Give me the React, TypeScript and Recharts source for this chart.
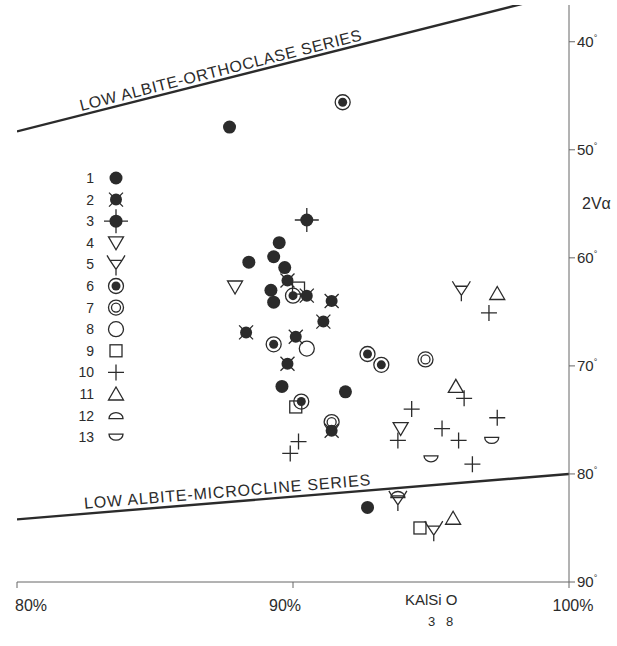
import React from "react";
import { ScatterChart, Scatter, XAxis, YAxis, ReferenceLine, Legend, Label } from "recharts";

const INK = "#2b2b2b";
const AXIS = "#666";
const FONT = "'Liberation Sans', Arial, sans-serif";

// axes
const X_TICKS = [80, 90, 100];
const Y_TICKS = [40, 50, 60, 70, 80, 90];
const Y_TOP = 36.6;

// series boundary lines (x %, 2V deg)
const orthoclaseLine = [[80, 48.3], [100, 35.4]];
const microclineLine = [[80, 84.2], [100, 80.0]];

// sample points per symbol type: [KAlSi3O8 %, 2V alpha]
const type1 = [[87.7, 47.9], [89.5, 58.6], [89.3, 59.9], [88.4, 60.4], [89.7, 60.9], [89.2, 63.0], [89.3, 64.1], [89.6, 71.9], [91.9, 72.4], [92.7, 83.1]];
const type2 = [[89.8, 62.1], [90.5, 63.5], [91.4, 64.0], [91.1, 65.9], [88.3, 66.9], [90.1, 67.3], [89.8, 69.8], [91.4, 76.0]];
const type3 = [[90.5, 56.5]];
const type4 = [[87.9, 62.7], [93.9, 75.8]];
const type5 = [[96.1, 63.0], [93.8, 82.4], [95.1, 85.2]];
const type6 = [[91.8, 45.6], [90.0, 63.5], [89.3, 68.0], [92.7, 68.9], [93.2, 69.9], [90.3, 73.3]];
const type7 = [[94.8, 69.4], [91.4, 75.2]];
const type8 = [[90.5, 68.4]];
const type9 = [[90.2, 62.8], [90.1, 73.8], [94.6, 85.0]];
const type10 = [[97.1, 65.1], [96.2, 73.0], [94.3, 74.0], [97.4, 74.8], [95.4, 75.8], [93.8, 76.9], [96.0, 76.9], [90.2, 77.0], [89.9, 78.1], [96.5, 79.1]];
const type11 = [[97.4, 63.3], [95.9, 71.9], [95.8, 84.1]];
const type12 = [[93.8, 81.9]];
const type13 = [[97.2, 76.9], [95.0, 78.6]];

const SERIES: [number, number[][]][] = [
  [9, type9], [1, type1], [2, type2], [3, type3], [4, type4], [5, type5], [6, type6],
  [7, type7], [8, type8], [10, type10], [11, type11], [12, type12], [13, type13],
];

const toPts = (a: number[][]) => a.map(([x, y]) => ({ x, y }));

function Mark({ kind, cx, cy }: { kind: number; cx: number; cy: number }) {
  const s = { stroke: INK, strokeWidth: 1.3, fill: "none" };
  const t = `translate(${cx},${cy})`;
  switch (kind) {
    case 1:
      return <circle cx={cx} cy={cy} r={6.5} fill={INK} />;
    case 2:
      return (
        <g transform={t}>
          <path d="M-7,-7L7,7M-7,7L7,-7" {...s} />
          <circle r={6} fill={INK} />
        </g>
      );
    case 3:
      return (
        <g transform={t}>
          <path d="M-12,0H12M0,-12V12" {...s} />
          <circle r={6.5} fill={INK} />
        </g>
      );
    case 4:
      return <path transform={t} d="M-7.5,-6L7.5,-6L0,7Z" {...s} />;
    case 5:
      return <path transform={t} d="M-6,-4L6,-4L0,5ZM-6,-4L-9,-9M6,-4L9,-9M0,5V11" {...s} />;
    case 6:
      return (
        <g transform={t}>
          <circle r={7.5} {...s} />
          <circle r={4.5} fill={INK} />
        </g>
      );
    case 7:
      return (
        <g transform={t}>
          <circle r={7.5} {...s} />
          <circle r={4.5} {...s} />
        </g>
      );
    case 8:
      return <circle cx={cx} cy={cy} r={7.5} {...s} />;
    case 9:
      return <rect x={cx - 6} y={cy - 6} width={12} height={12} {...s} />;
    case 10:
      return <path transform={t} d="M-8,0H8M0,-8V8" {...s} />;
    case 11:
      return <path transform={t} d="M-7.5,6L7.5,6L0,-7Z" {...s} />;
    case 12:
      return <path transform={t} d="M-7,3A7,6 0 0 1 7,3Z" {...s} />;
    case 13:
      return <path transform={t} d="M-7,-3A7,6 0 0 0 7,-3Z" {...s} />;
    default:
      return null;
  }
}

const LegendBox = () => (
  <svg width={70} height={290} style={{ display: "block" }}>
    {Array.from({ length: 13 }, (_, i) => {
      const y = 10 + i * 21.6;
      return (
        <g key={i}>
          <text x={26} y={y} dy="0.35em" textAnchor="end" fontSize={14} fill={INK} fontFamily={FONT}>
            {i + 1}
          </text>
          <Mark kind={i + 1} cx={48} cy={y} />
        </g>
      );
    })}
  </svg>
);

const X_TICK_DX: Record<number, number> = { 80: 14, 90: -8, 100: 4 };

const XTick = ({ x, y, payload }: any) => {
  const v = payload.value;
  return (
    <text x={x + (X_TICK_DX[v] ?? 0)} y={y + 21} textAnchor="middle" fontSize={16} fill={INK} fontFamily={FONT}>
      {v}%
    </text>
  );
};

const YTick = ({ x, y, payload }: any) => (
  <text x={x} y={y} dy="0.35em" fontSize={15} fill={INK} fontFamily={FONT}>
    {payload.value}
    <tspan dy="-0.7em" fontSize={9}>°</tspan>
  </text>
);

const seriesLabel = (text: string, frac: number, lift: number, len: number) => (props: any) => {
  const { x, y, width, height } = props.viewBox;
  const deg = (Math.atan2(height, width) * 180) / Math.PI;
  const lx = x + width * frac;
  const ly = y + height - height * frac;
  return (
    <text
      transform={`translate(${lx},${ly}) rotate(${-deg}) translate(0,${-lift})`}
      fontSize={16}
      fill={INK}
      fontFamily={FONT}
      textLength={len}
      lengthAdjust="spacing"
    >
      {text}
    </text>
  );
};

const vLabel = (props: any) => {
  const { x, y, height } = props.viewBox;
  const cy = y + (height * (55 - Y_TOP)) / (90 - Y_TOP);
  return (
    <text x={x + 13} y={cy} dy="0.35em" fontSize={16} fill={INK} fontFamily={FONT}>
      2Vα
    </text>
  );
};

const xLabel = () => (
  <g fill={INK} fontFamily={FONT}>
    <text x={405} y={605} fontSize={15}>KAlSi O</text>
    <text x={428} y={626} fontSize={13}>3</text>
    <text x={446} y={626} fontSize={13}>8</text>
  </g>
);

export default function App() {
  return (
    <div style={{ position: "absolute", left: 0, top: 0, background: "#fff" }}>
      <ScatterChart width={617} height={646} margin={{ top: 5, right: 0, bottom: 0, left: 17 }}>
        <XAxis
          dataKey="x"
          type="number"
          domain={[80, 100]}
          ticks={X_TICKS}
          height={64}
          stroke={AXIS}
          tickSize={6}
          tick={<XTick />}
          allowDataOverflow
        >
          <Label content={xLabel} />
        </XAxis>
        <XAxis xAxisId="top" orientation="top" type="number" domain={[80, 100]} height={0} tick={false} tickLine={false} stroke={AXIS} />
        <YAxis
          dataKey="y"
          type="number"
          orientation="right"
          reversed
          domain={[Y_TOP, 90]}
          ticks={Y_TICKS}
          width={48}
          stroke={AXIS}
          tickSize={6}
          tick={<YTick />}
          allowDataOverflow
        >
          <Label content={vLabel} />
        </YAxis>
        <YAxis yAxisId="left" orientation="left" type="number" domain={[Y_TOP, 90]} width={0} tick={false} tickLine={false} stroke={AXIS} />
        <ReferenceLine
          segment={toPts(orthoclaseLine)}
          stroke={INK}
          strokeWidth={2.4}
          ifOverflow="hidden"
          label={seriesLabel("LOW ALBITE-ORTHOCLASE SERIES", 0.118, 4, 290)}
        />
        <ReferenceLine
          segment={toPts(microclineLine)}
          stroke={INK}
          strokeWidth={2.4}
          ifOverflow="hidden"
          label={seriesLabel("LOW ALBITE-MICROCLINE SERIES", 0.123, 5, 287)}
        />
        {SERIES.map(([kind, data]) => (
          <Scatter
            key={kind}
            name={String(kind)}
            data={toPts(data)}
            isAnimationActive={false}
            shape={(p: any) => <Mark kind={kind} cx={p.cx} cy={p.cy} />}
          />
        ))}
        <Legend
          layout="horizontal"
          align="center"
          verticalAlign="middle"
          wrapperStyle={{ left: 68, top: 168, width: 70 }}
          content={LegendBox}
        />
      </ScatterChart>
    </div>
  );
}
